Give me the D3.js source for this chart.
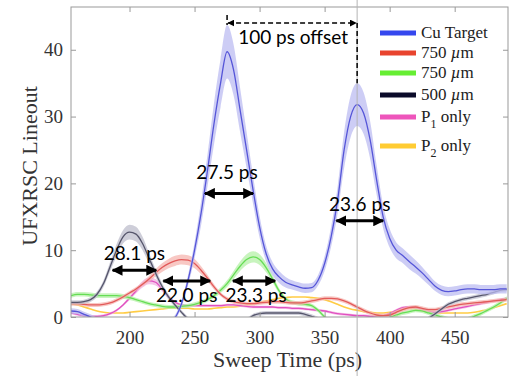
<!DOCTYPE html>
<html>
<head>
<meta charset="utf-8">
<script src="https://cdn.jsdelivr.net/npm/d3@7"></script>
<style>
body { margin: 0; background: #fff; }
svg { display: block; }
</style>
</head>
<body>
<script>
// sweep time (ps), sampled every 5 ps
const sweepTime = [155,160,165,170,175,180,185,190,195,200,
  205,210,215,220,225,230,235,240,245,250,
  255,260,265,270,275,280,285,290,295,300,
  305,310,315,320,325,330,335,340,345,350,
  355,360,365,370,375,380,385,390,395,400,
  405,410,415,420,425,430,435,440,445,450,
  455,460,465,470,475,480,485,490];

const cuTarget = [0.9,0.8,0.4,0,-0.5,-1,-1,-1,-1,-1,
  -1,-1,-1,-1,-1,-0.8,-0.1,2,5.5,10,
  15.5,22,29,35,39.7,37,31,25,19,13.5,
  9.5,7.2,6,5.2,4.8,4.5,4.3,4.4,5.5,8,
  12,17.5,25,30,31.8,30.5,26.5,20.5,15,11.8,
  10,9.2,8.3,7.5,6.6,5.6,4.6,4,3.8,3.9,
  4.1,4.2,4.2,4.1,4.1,4.1,4.2,4.2];
const cuTargetErr = [0.4,0.4,0.4,0.4,0.4,0.4,0.4,0.4,0.4,0.4,
  0.4,0.4,0.4,0.4,0.4,0.4,0.4,0.5,0.8,1.2,
  1.8,2.4,3.1,3.6,4,3.8,3.3,2.7,2.1,1.6,
  1.2,1,0.9,0.8,0.7,0.7,0.7,0.7,0.8,1.1,
  1.5,2,2.7,3.1,3.2,3.1,2.8,2.2,1.7,1.4,
  1.2,1.1,1.1,1,0.9,0.8,0.7,0.7,0.7,0.7,
  0.7,0.7,0.7,0.7,0.7,0.7,0.7,0.7];

const red750 = [2,2,1.9,1.8,1.8,1.9,2.1,2.5,3,3.6,
  4.2,4.9,5.7,6.6,7.4,8,8.4,8.6,8.5,8,
  7,5.8,4.5,3.4,2.7,2.3,2.1,2,2,2.1,
  2.2,2.3,2.3,2.2,2.1,2.1,2.2,2.4,2.6,2.8,
  2.8,2.7,2.4,2,1.5,1,0.6,0.3,0.2,0.3,
  0.7,1.1,1.4,1.5,1.3,1.1,1.1,1.3,1.5,1.7,
  1.9,2,2.1,2.2,2.3,2.4,2.5,2.6];
const red750Err = [0.3,0.3,0.3,0.3,0.3,0.3,0.3,0.3,0.3,0.3,
  0.3,0.3,0.45,0.55,0.65,0.7,0.75,0.75,0.75,0.7,
  0.6,0.5,0.4,0.3,0.3,0.3,0.3,0.3,0.3,0.3,
  0.3,0.3,0.3,0.3,0.3,0.3,0.3,0.3,0.3,0.3,
  0.3,0.3,0.3,0.3,0.3,0.3,0.3,0.3,0.3,0.3,
  0.3,0.3,0.3,0.3,0.3,0.3,0.3,0.3,0.3,0.3,
  0.3,0.3,0.3,0.3,0.3,0.3,0.3,0.3];

const green750 = [3.2,3.4,3.4,3.3,3.2,3.2,3.2,3.2,3.1,2.9,
  2.6,2.3,2,1.8,1.6,1.5,1.5,1.6,1.7,1.9,
  2.2,2.6,3.2,4,5,6.3,7.6,8.6,9,8.6,
  7.4,5.7,3.9,2.7,2.2,2,1.9,1.7,1,0,
  -0.8,-1.2,-1.2,-1.2,-1.2,-1.2,-1.2,-1,-0.6,0,
  0.3,0.6,0.8,1,0.9,0.6,0.3,0,-0.3,-0.6,
  -0.6,-0.3,0.1,0.5,1,1.5,2.1,2.8];
const green750Err = [0.35,0.35,0.35,0.35,0.35,0.35,0.35,0.35,0.35,0.35,
  0.3,0.3,0.3,0.3,0.3,0.3,0.3,0.3,0.3,0.3,
  0.3,0.3,0.35,0.4,0.5,0.6,0.7,0.8,0.85,0.8,
  0.7,0.55,0.4,0.3,0.3,0.3,0.3,0.3,0.3,0.3,
  0.3,0.3,0.3,0.3,0.3,0.3,0.3,0.3,0.3,0.3,
  0.3,0.3,0.3,0.3,0.3,0.3,0.3,0.3,0.3,0.3,
  0.3,0.3,0.3,0.3,0.3,0.3,0.3,0.3];

const black500 = [2.2,2.2,2.3,2.6,3.4,5,7.5,10,12,12.7,
  12.4,11,8.8,6.6,4.6,3,1.8,0.7,-0.3,-1,
  -1.5,-1.5,-1.5,-1.5,-1.5,-1.5,-1.2,-0.5,0.2,0.5,
  0.6,0.6,0.6,0.6,0.6,0.6,0.4,0.1,-0.3,-1,
  -1,-1,-1,-1,-1,-1,-1,-1,-1,-1,
  -1,-1,-1,-1,-1,-0.2,0.5,1.2,1.9,2.3,
  2.6,2.8,3,3.2,3.4,3.7,4,4.1];
const black500Err = [0.3,0.3,0.3,0.35,0.4,0.5,0.7,0.9,1,1.1,
  1.1,1,0.8,0.6,0.5,0.4,0.3,0.3,0.3,0.3,
  0.3,0.3,0.3,0.3,0.3,0.3,0.3,0.3,0.3,0.3,
  0.3,0.3,0.3,0.3,0.3,0.3,0.3,0.3,0.3,0.3,
  0.3,0.3,0.3,0.3,0.3,0.3,0.3,0.3,0.3,0.3,
  0.3,0.3,0.3,0.3,0.3,0.3,0.3,0.3,0.3,0.3,
  0.3,0.3,0.3,0.3,0.3,0.3,0.3,0.3];

const p1Only = [0.6,0.4,0.2,0.1,0.1,0.2,0.5,1,1.8,2.8,
  3.9,4.9,5.4,5.2,4.2,3,2.2,1.8,1.7,1.7,
  1.7,1.7,1.7,1.7,1.8,1.8,1.7,1.6,1.5,1.5,
  1.5,1.5,1.4,1.4,1.3,1.3,1.2,1.1,1,0.9,
  0.7,0.5,0.4,0.3,0.2,0.2,0.1,0.1,0.2,0.5,
  1,1.4,1.5,1.4,1.1,0.8,0.7,0.8,1,1.2,
  1.4,1.6,1.8,2,2.2,2.4,2.6,2.8];
const p1OnlyErr = [0.2,0.2,0.2,0.2,0.2,0.2,0.2,0.2,0.2,0.3,
  0.4,0.5,0.5,0.5,0.4,0.3,0.2,0.2,0.2,0.2,
  0.2,0.2,0.2,0.2,0.2,0.2,0.2,0.2,0.2,0.2,
  0.2,0.2,0.2,0.2,0.2,0.2,0.2,0.2,0.2,0.2,
  0.2,0.2,0.2,0.2,0.2,0.2,0.2,0.2,0.2,0.2,
  0.2,0.2,0.2,0.2,0.2,0.2,0.2,0.2,0.2,0.2,
  0.2,0.2,0.2,0.2,0.2,0.2,0.2,0.2];

const p2Only = [2,1.8,1.5,1.2,0.9,0.7,0.6,0.6,0.6,0.7,
  0.8,0.9,1,1.1,1.2,1.3,1.3,1.3,1.3,1.2,
  1.2,1.2,1.3,1.4,1.5,1.5,1.6,1.8,2,2.2,
  2.4,2.6,2.8,2.9,3,3,3,2.9,2.8,2.6,
  2.3,1.9,1.5,1.2,1,0.8,0.7,0.6,0.6,0.7,
  0.9,1.2,1.3,1.2,0.9,0.7,0.6,0.6,0.6,0.6,
  0.6,0.6,0.7,0.9,1.1,1.4,1.7,2];

const seriesNames = ["Cu Target", "750 µm", "750 µm", "500 µm", "P1 only", "P2 only"];
const xTicks = [200, 250, 300, 350, 400, 450];
const yTicks = [0, 10, 20, 30, 40];

// FWHM arrows (ps, ps, level)
const fwhmLabels = ["28.1 ps", "27.5 ps", "22.0 ps", "23.3 ps", "23.6 ps"];
const fwhmStart = [187, 258, 226, 279.5, 359];
const fwhmEnd = [220.5, 295, 262, 312, 395];
const fwhmLevel = [7, 18.5, 5.4, 5.4, 14.4];
const offsetLabel = "100 ps offset";
const offsetFrom = 275;
const offsetTo = 375;

const W = 514, H = 376;
const mLeft = 71, mRight = 508, mTop = 7, mBottom = 317;

const x = d3.scaleLinear().domain([155, 491]).range([mLeft, mRight]);
const y = d3.scaleLinear().domain([0, 46.4]).range([mBottom, mTop]);

const svg = d3.select("body").append("svg")
    .attr("width", W)
    .attr("height", H);

const defs = svg.append("defs");
defs.append("clipPath").attr("id", "plotclip")
  .append("rect")
    .attr("x", mLeft).attr("y", mTop)
    .attr("width", mRight - mLeft).attr("height", mBottom - mTop);

function addMarker(id, size){
  defs.append("marker")
    .attr("id", id)
    .attr("viewBox", "0 0 10 10")
    .attr("refX", 9).attr("refY", 5)
    .attr("markerWidth", size).attr("markerHeight", size)
    .attr("markerUnits", "userSpaceOnUse")
    .attr("orient", "auto-start-reverse")
    .append("path")
      .attr("d", "M0,0 L10,5 L0,10 z")
      .attr("fill", "#000");
}
addMarker("head", 11);
addMarker("smallhead", 7);

// series in drawing order (back to front)
const series = [
  {name: seriesNames[5], values: p2Only, err: null, line: "#ffcc44", band: null, key: "#ffcc33"},
  {name: seriesNames[4], values: p1Only, err: p1OnlyErr, line: "#e050c0", band: "#f2b0e2", key: "#ee55bb"},
  {name: seriesNames[2], values: green750, err: green750Err, line: "#66dd55", band: "#b6f0a8", key: "#66ee33"},
  {name: seriesNames[1], values: red750, err: red750Err, line: "#e25a5a", band: "#f5b5b0", key: "#e8442e"},
  {name: seriesNames[3], values: black500, err: black500Err, line: "#55556b", band: "#bdbdcc", key: "#0b0b2a"},
  {name: seriesNames[0], values: cuTarget, err: cuTargetErr, line: "#5555d8", band: "#bcbcf2", key: "#3547ee"}
];

function graficarSeries(){
  const g = svg.append("g").attr("clip-path", "url(#plotclip)");
  series.forEach(function(s){
    if (s.err){
      const band = d3.area()
        .x(function(d, i){ return x(sweepTime[i]); })
        .y0(function(d, i){ return y(d - s.err[i]); })
        .y1(function(d, i){ return y(d + s.err[i]); })
        .curve(d3.curveMonotoneX);
      g.append("path")
        .datum(s.values)
        .attr("d", band)
        .attr("fill", s.band)
        .attr("fill-opacity", 0.75);
    }
    const line = d3.line()
      .x(function(d, i){ return x(sweepTime[i]); })
      .y(function(d){ return y(d); })
      .curve(d3.curveMonotoneX);
    g.append("path")
      .datum(s.values)
      .attr("d", line)
      .attr("fill", "none")
      .attr("stroke", s.line)
      .attr("stroke-width", s.err ? 1.3 : 1.6);
  });
}

function ejes(){
  const tickFont = "'Liberation Serif', 'Times New Roman', serif";
  const gx = svg.append("g")
    .attr("transform", "translate(0," + mBottom + ")")
    .call(d3.axisBottom(x).tickValues(xTicks).tickSize(-5).tickPadding(14));
  const gy = svg.append("g")
    .attr("transform", "translate(" + mLeft + ",0)")
    .call(d3.axisLeft(y).tickValues(yTicks).tickSize(-5).tickPadding(8));
  const gt = svg.append("g")
    .attr("transform", "translate(0," + mTop + ")")
    .call(d3.axisTop(x).tickValues(xTicks).tickSize(-5).tickFormat(""));
  const gr = svg.append("g")
    .attr("transform", "translate(" + mRight + ",0)")
    .call(d3.axisRight(y).tickValues(yTicks).tickSize(-5).tickFormat(""));
  [gx, gy, gt, gr].forEach(function(g){
    g.select(".domain").remove();
    g.selectAll(".tick line").attr("stroke", "#999");
    g.selectAll(".tick text")
      .attr("fill", "#333")
      .style("font-family", tickFont)
      .style("font-size", "19px");
  });
  svg.append("rect")
    .attr("x", mLeft).attr("y", mTop)
    .attr("width", mRight - mLeft).attr("height", mBottom - mTop)
    .attr("fill", "none")
    .attr("stroke", "#999")
    .attr("stroke-width", 1);

  svg.append("text")
    .attr("x", (mLeft + mRight) / 2 - 2)
    .attr("y", 367)
    .attr("text-anchor", "middle")
    .attr("fill", "#333")
    .style("font-family", tickFont)
    .style("font-size", "22px")
    .text("Sweep Time (ps)");
  svg.append("text")
    .attr("transform", "translate(37," + ((mTop + mBottom) / 2 + 4) + ") rotate(-90)")
    .attr("text-anchor", "middle")
    .attr("fill", "#333")
    .style("font-family", tickFont)
    .style("font-size", "22px")
    .text("UFXRSC Lineout");
}

function marcador(){
  // thin grey reference line at the second peak
  svg.append("line")
    .attr("x1", x(offsetTo)).attr("x2", x(offsetTo))
    .attr("y1", 0).attr("y2", H)
    .attr("stroke", "#b4b4b4")
    .attr("stroke-width", 1);
}

function anotaciones(){
  const annFont = "Lato, 'Open Sans', sans-serif";
  const labelDy = [-10, -14, 21, 21, -10];
  const labelDx = [0, -2, 0, 2, 0];
  fwhmLabels.forEach(function(lab, i){
    const yy = y(fwhmLevel[i]);
    svg.append("line")
      .attr("x1", x(fwhmStart[i])).attr("x2", x(fwhmEnd[i]))
      .attr("y1", yy).attr("y2", yy)
      .attr("stroke", "#000")
      .attr("stroke-width", 3)
      .attr("marker-start", "url(#head)")
      .attr("marker-end", "url(#head)");
    svg.append("text")
      .attr("x", (x(fwhmStart[i]) + x(fwhmEnd[i])) / 2 + labelDx[i])
      .attr("y", yy + labelDy[i])
      .attr("text-anchor", "middle")
      .style("font-family", annFont)
      .style("font-size", "19px")
      .attr("fill", "#000")
      .text(lab);
  });

  // 100 ps offset bracket
  const i1 = sweepTime.indexOf(offsetFrom), i2 = sweepTime.indexOf(offsetTo);
  const peak1 = y(cuTarget[i1] + cuTargetErr[i1]);
  const peak2 = y(cuTarget[i2] + cuTargetErr[i2]);
  const yb = 23;
  svg.append("line")
    .attr("x1", x(offsetFrom)).attr("x2", x(offsetFrom))
    .attr("y1", 15).attr("y2", peak1)
    .attr("stroke", "#000").attr("stroke-width", 1.5)
    .attr("stroke-dasharray", "5,3");
  svg.append("line")
    .attr("x1", x(offsetTo)).attr("x2", x(offsetTo))
    .attr("y1", yb).attr("y2", peak2)
    .attr("stroke", "#000").attr("stroke-width", 1.5)
    .attr("stroke-dasharray", "5,3");
  svg.append("line")
    .attr("x1", x(offsetFrom) + 1).attr("x2", x(offsetTo) - 1)
    .attr("y1", yb).attr("y2", yb)
    .attr("stroke", "#000").attr("stroke-width", 1.5)
    .attr("stroke-dasharray", "5,3")
    .attr("marker-start", "url(#smallhead)")
    .attr("marker-end", "url(#smallhead)");
  svg.append("text")
    .attr("x", (x(offsetFrom) + x(offsetTo)) / 2 + 1)
    .attr("y", 44)
    .attr("text-anchor", "middle")
    .style("font-family", annFont)
    .style("font-size", "19px")
    .attr("fill", "#000")
    .text(offsetLabel);
}

function leyenda(){
  const order = [5, 3, 2, 4, 1, 0];
  const rowY = [33, 53, 73, 95, 117, 146];
  const g = svg.append("g")
    .style("font-family", "'Liberation Serif', 'Times New Roman', serif")
    .style("font-size", "17px");
  order.forEach(function(k, i){
    const s = series[k];
    g.append("line")
      .attr("x1", 380).attr("x2", 416)
      .attr("y1", rowY[i]).attr("y2", rowY[i])
      .attr("stroke", s.key)
      .attr("stroke-width", 5);
    const t = g.append("text")
      .attr("x", 421)
      .attr("y", rowY[i] + 5)
      .attr("fill", "#222");
    const name = s.name;
    if (name.indexOf("µm") >= 0){
      t.append("tspan").text(name.replace("µm", ""));
      t.append("tspan").style("font-style", "italic").text("µ");
      t.append("tspan").text("m");
    } else if (name.charAt(0) === "P"){
      t.append("tspan").text("P");
      t.append("tspan").attr("dy", 6).style("font-size", "12px").text(name.charAt(1));
      t.append("tspan").attr("dy", -6).text(name.slice(2));
    } else {
      t.text(name);
    }
  });
}

graficarSeries();
ejes();
marcador();
anotaciones();
leyenda();
</script>
</body>
</html>
